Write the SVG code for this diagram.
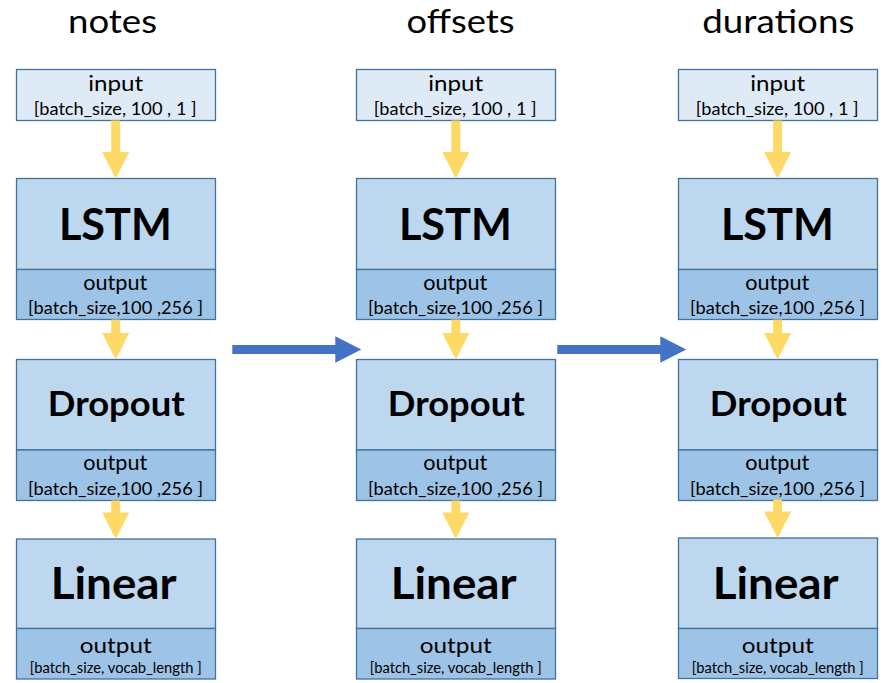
<svg xmlns="http://www.w3.org/2000/svg" xmlns:xlink="http://www.w3.org/1999/xlink" width="893" height="683" viewBox="0 0 893 683">
<style>
text{font-family:Lato,"Liberation Sans",sans-serif;fill:#000;text-anchor:middle}
.title{font-size:32px}
.in{fill:#DEEBF7;stroke:#41719C;stroke-width:1.3}
.layer{fill:#BDD7EE;stroke:#41719C;stroke-width:1.3}
.out{fill:#9DC3E6;stroke:#41719C;stroke-width:1.3}
.big{font-size:44px;font-weight:bold}
.mid{font-size:34px;font-weight:bold}
.lbl{font-size:22px}
.dim{font-size:17.5px}
.dims{font-size:15px}
.ya{fill:#FFD966}
.ba{fill:#4472C4}
</style>
<defs>
<path id="y1" d="M-4.5,120.5H4.5V152H13.5L0,178.5L-13.5,152H-4.5Z"/>
<path id="y2" d="M-4.5,319.5H4.5V333H13.5L0,359.5L-13.5,333H-4.5Z"/>
<path id="y3" d="M-4.5,500.5H4.5V512.5H13.5L0,539L-13.5,512.5H-4.5Z"/>
<path id="ba" d="M0,345H103V336.2L129,349.5L103,362.8V354H0Z"/>
</defs>

<g id="title-notes"><text class="title" x="112.5" y="32.5" textLength="89" lengthAdjust="spacingAndGlyphs">notes</text></g>
<g id="title-offsets"><text class="title" x="460.5" y="32.5" textLength="108" lengthAdjust="spacingAndGlyphs">offsets</text></g>
<g id="title-durations"><text class="title" x="778.3" y="32.5" textLength="152" lengthAdjust="spacingAndGlyphs">durations</text></g>

<!-- column 1 -->
<g id="notes-input">
<rect class="in" x="16.5" y="69.5" width="199" height="51"/>
<text class="lbl" x="115.7" y="91" textLength="55" lengthAdjust="spacingAndGlyphs">input</text>
<text class="dim" x="115.2" y="115" textLength="163" lengthAdjust="spacingAndGlyphs">[batch_size, 100 , 1 ]</text>
</g>
<g id="notes-lstm">
<rect class="layer" x="16.5" y="178.5" width="199" height="91"/>
<rect class="out" x="16.5" y="269.5" width="199" height="50"/>
<text class="big" x="115.4" y="240" textLength="113" lengthAdjust="spacingAndGlyphs">LSTM</text>
<text class="lbl" x="115.2" y="289.5" textLength="64" lengthAdjust="spacingAndGlyphs">output</text>
<text class="dim" x="115.5" y="314" textLength="175" lengthAdjust="spacingAndGlyphs">[batch_size,100 ,256 ]</text>
</g>
<g id="notes-dropout">
<rect class="layer" x="16.5" y="359.5" width="199" height="90.5"/>
<rect class="out" x="16.5" y="450" width="199" height="50.5"/>
<text class="mid" x="116.3" y="415.7" textLength="137" lengthAdjust="spacingAndGlyphs">Dropout</text>
<text class="lbl" x="115.2" y="470" textLength="64" lengthAdjust="spacingAndGlyphs">output</text>
<text class="dim" x="115.5" y="494.7" textLength="175" lengthAdjust="spacingAndGlyphs">[batch_size,100 ,256 ]</text>
</g>
<g id="notes-linear">
<rect class="layer" x="16.5" y="539" width="199" height="89.5"/>
<rect class="out" x="16.5" y="628.5" width="199" height="50.5"/>
<text class="big" x="113.7" y="599" textLength="126" lengthAdjust="spacingAndGlyphs">Linear</text>
<text class="lbl" x="115.7" y="653.3" textLength="72" lengthAdjust="spacingAndGlyphs">output</text>
<text class="dims" x="115.7" y="673.3" textLength="172" lengthAdjust="spacingAndGlyphs">[batch_size, vocab_length ]</text>
</g>

<!-- column 2 -->
<g id="offsets-input">
<rect class="in" x="356.5" y="69.5" width="199" height="51"/>
<text class="lbl" x="455.7" y="91" textLength="55" lengthAdjust="spacingAndGlyphs">input</text>
<text class="dim" x="455.2" y="115" textLength="163" lengthAdjust="spacingAndGlyphs">[batch_size, 100 , 1 ]</text>
</g>
<g id="offsets-lstm">
<rect class="layer" x="356.5" y="178.5" width="199" height="91"/>
<rect class="out" x="356.5" y="269.5" width="199" height="50"/>
<text class="big" x="455.4" y="240" textLength="113" lengthAdjust="spacingAndGlyphs">LSTM</text>
<text class="lbl" x="455.2" y="289.5" textLength="64" lengthAdjust="spacingAndGlyphs">output</text>
<text class="dim" x="455.5" y="314" textLength="175" lengthAdjust="spacingAndGlyphs">[batch_size,100 ,256 ]</text>
</g>
<g id="offsets-dropout">
<rect class="layer" x="356.5" y="359.5" width="199" height="90.5"/>
<rect class="out" x="356.5" y="450" width="199" height="50.5"/>
<text class="mid" x="456.3" y="415.7" textLength="137" lengthAdjust="spacingAndGlyphs">Dropout</text>
<text class="lbl" x="455.2" y="470" textLength="64" lengthAdjust="spacingAndGlyphs">output</text>
<text class="dim" x="455.5" y="494.7" textLength="175" lengthAdjust="spacingAndGlyphs">[batch_size,100 ,256 ]</text>
</g>
<g id="offsets-linear">
<rect class="layer" x="356.5" y="539" width="199" height="89.5"/>
<rect class="out" x="356.5" y="628.5" width="199" height="50.5"/>
<text class="big" x="453.7" y="599" textLength="126" lengthAdjust="spacingAndGlyphs">Linear</text>
<text class="lbl" x="455.7" y="653.3" textLength="72" lengthAdjust="spacingAndGlyphs">output</text>
<text class="dims" x="455.7" y="673.3" textLength="172" lengthAdjust="spacingAndGlyphs">[batch_size, vocab_length ]</text>
</g>

<!-- column 3 -->
<g id="durations-input">
<rect class="in" x="678.5" y="69.5" width="199" height="51"/>
<text class="lbl" x="777.7" y="91" textLength="55" lengthAdjust="spacingAndGlyphs">input</text>
<text class="dim" x="777.2" y="115" textLength="163" lengthAdjust="spacingAndGlyphs">[batch_size, 100 , 1 ]</text>
</g>
<g id="durations-lstm">
<rect class="layer" x="678.5" y="178.5" width="199" height="91"/>
<rect class="out" x="678.5" y="269.5" width="199" height="50"/>
<text class="big" x="777.4" y="240" textLength="113" lengthAdjust="spacingAndGlyphs">LSTM</text>
<text class="lbl" x="777.2" y="289.5" textLength="64" lengthAdjust="spacingAndGlyphs">output</text>
<text class="dim" x="777.5" y="314" textLength="175" lengthAdjust="spacingAndGlyphs">[batch_size,100 ,256 ]</text>
</g>
<g id="durations-dropout">
<rect class="layer" x="678.5" y="359.5" width="199" height="90.5"/>
<rect class="out" x="678.5" y="450" width="199" height="50.5"/>
<text class="mid" x="778.3" y="415.7" textLength="137" lengthAdjust="spacingAndGlyphs">Dropout</text>
<text class="lbl" x="777.2" y="470" textLength="64" lengthAdjust="spacingAndGlyphs">output</text>
<text class="dim" x="777.5" y="494.7" textLength="175" lengthAdjust="spacingAndGlyphs">[batch_size,100 ,256 ]</text>
</g>
<g id="durations-linear">
<rect class="layer" x="678.5" y="538" width="199" height="90.5"/>
<rect class="out" x="678.5" y="628.5" width="199" height="50"/>
<text class="big" x="775.7" y="599" textLength="126" lengthAdjust="spacingAndGlyphs">Linear</text>
<text class="lbl" x="777.7" y="653.3" textLength="72" lengthAdjust="spacingAndGlyphs">output</text>
<text class="dims" x="777.7" y="673.3" textLength="172" lengthAdjust="spacingAndGlyphs">[batch_size, vocab_length ]</text>
</g>

<g id="connectors">
<use class="ya" xlink:href="#y1" transform="translate(115.7,0)"/>
<use class="ya" xlink:href="#y2" transform="translate(115.7,0)"/>
<use class="ya" xlink:href="#y3" transform="translate(115.7,0)"/>
<use class="ya" xlink:href="#y1" transform="translate(455.8,0)"/>
<use class="ya" xlink:href="#y2" transform="translate(455.8,0)"/>
<use class="ya" xlink:href="#y3" transform="translate(455.8,0)"/>
<use class="ya" xlink:href="#y1" transform="translate(777.6,0)"/>
<use class="ya" xlink:href="#y2" transform="translate(777.6,0)"/>
<use class="ya" xlink:href="#y3" transform="translate(777.6,-1)"/>
<use class="ba" xlink:href="#ba" transform="translate(232.3,0)"/>
<use class="ba" xlink:href="#ba" transform="translate(557.3,0)"/>
</g>
</svg>
